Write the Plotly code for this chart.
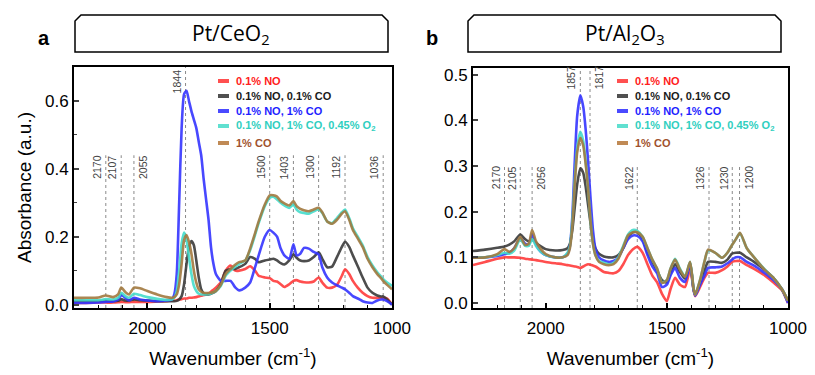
import plotly.graph_objects as go

# ---------------- data: panel a (Pt/CeO2) ----------------
wn_a = [2300, 2250, 2200, 2170, 2140, 2120, 2107, 2090, 2075, 2055,
        2030, 2000, 1960, 1920, 1900, 1890, 1880, 1870, 1860, 1850,
        1840, 1830, 1820, 1810, 1800, 1790, 1780, 1770, 1760, 1750,
        1740, 1730, 1720, 1700, 1680, 1660, 1640, 1625, 1600, 1580,
        1560, 1545, 1520, 1500, 1485, 1470, 1455, 1440, 1420, 1403,
        1390, 1375, 1360, 1340, 1320, 1300, 1285, 1265, 1245, 1225,
        1205, 1192, 1175, 1160, 1140, 1120, 1100, 1080, 1060, 1045,
        1036, 1020, 1000]
no_a = [.005, .005, .006, .006, .006, .007, .008, .007, .007, .008,
        .008, .008, .009, .010, .012, .012, .013, .015, .016, .018,
        .018, .020, .020, .021, .022, .024, .026, .028, .030, .033,
        .038, .044, .050, .065, .100, .115, .100, .100, .105, .113,
        .100, .085, .080, .078, .070, .068, .060, .052, .060, .070,
        .072, .068, .066, .065, .068, .080, .065, .050, .050, .058,
        .085, .104, .090, .070, .050, .035, .025, .020, .020, .020,
        .020, .018, .000]
no_co01_a = [.010, .010, .010, .011, .010, .011, .016, .012, .012, .015,
             .013, .012, .010, .010, .010, .010, .011, .015, .025, .060,
             .120, .170, .187, .175, .130, .080, .045, .033, .030, .030,
             .032, .035, .040, .060, .100, .105, .105, .110, .120, .140,
             .135, .125, .130, .133, .135, .130, .122, .118, .130, .148,
             .138, .130, .128, .130, .140, .154, .135, .110, .112, .140,
             .170, .185, .170, .145, .113, .080, .050, .035, .027, .024,
             .024, .015, .000]
no_co1_a = [.005, .005, .006, .008, .009, .015, .028, .020, .012, .020,
            .015, .012, .010, .012, .015, .030, .090, .300, .520, .620,
            .630, .600, .570, .545, .520, .480, .440, .370, .310, .250,
            .170, .120, .090, .070, .070, .070, .050, .042, .050, .065,
            .110, .145, .200, .220, .212, .200, .165, .145, .135, .178,
            .145, .150, .167, .165, .155, .148, .110, .080, .065, .057,
            .050, .045, .035, .025, .018, .010, .006, .005, .012, .015,
            .015, .010, .000]
no_co1_o2_a = [.013, .013, .013, .016, .015, .020, .035, .025, .020, .032,
               .028, .022, .017, .014, .015, .020, .040, .100, .180, .212,
               .190, .140, .090, .055, .040, .032, .030, .030, .030, .031,
               .033, .036, .040, .055, .085, .100, .112, .120, .130, .160,
               .205, .240, .290, .315, .318, .310, .300, .292, .285, .295,
               .280, .272, .270, .268, .275, .280, .270, .245, .240, .255,
               .272, .280, .255, .225, .200, .175, .140, .115, .095, .083,
               .075, .065, .055]
co1_a = [.020, .020, .021, .027, .022, .030, .050, .037, .030, .050,
         .048, .040, .030, .022, .020, .022, .030, .060, .120, .190,
         .205, .185, .150, .100, .065, .045, .038, .035, .034, .034,
         .035, .037, .040, .058, .090, .105, .118, .125, .130, .165,
         .210, .245, .295, .322, .322, .318, .305, .298, .292, .305,
         .290, .282, .278, .275, .280, .285, .272, .245, .238, .250,
         .268, .275, .250, .220, .195, .170, .135, .110, .090, .078,
         .070, .058, .045]
peaks_a_low = [2170, 2107, 2055, 1500, 1403, 1300, 1192, 1036]
peaks_a_high = [1844]

# ---------------- data: panel b (Pt/Al2O3) ----------------
wn_b = [2300, 2250, 2200, 2170, 2150, 2130, 2105, 2085, 2070, 2056,
        2040, 2020, 2000, 1960, 1930, 1910, 1900, 1890, 1880, 1870,
        1857, 1845, 1835, 1825, 1815, 1805, 1795, 1780, 1760, 1740,
        1720, 1700, 1680, 1660, 1640, 1622, 1600, 1580, 1560, 1540,
        1520, 1500, 1485, 1466, 1446, 1425, 1404, 1390, 1383, 1363,
        1345, 1330, 1300, 1272, 1250, 1231, 1215, 1198, 1170, 1140,
        1095, 1060, 1025, 1000]
no_b = [.083, .090, .097, .100, .100, .100, .099, .097, .096, .095,
        .094, .092, .090, .087, .085, .083, .082, .081, .080, .079,
        .077, .080, .083, .085, .084, .082, .080, .075, .068, .066,
        .065, .070, .085, .105, .118, .123, .110, .085, .060, .045,
        .020, .004, .030, .055, .040, .035, .075, .030, .015, .035,
        .055, .066, .066, .072, .080, .090, .092, .092, .083, .075,
        .060, .045, .028, .000]
no_co01_b = [.114, .117, .121, .124, .128, .135, .150, .140, .135, .140,
             .132, .124, .118, .115, .116, .120, .130, .160, .210, .260,
             .295, .285, .255, .215, .175, .140, .120, .108, .102, .100,
             .100, .105, .120, .145, .155, .155, .140, .110, .090, .070,
             .050, .045, .065, .085, .068, .053, .088, .030, .018, .045,
             .070, .090, .090, .088, .095, .108, .110, .110, .100, .090,
             .072, .055, .030, .005]
no_co1_b = [.099, .100, .103, .107, .110, .120, .142, .130, .128, .150,
            .128, .112, .105, .100, .100, .108, .125, .190, .310, .410,
            .455, .430, .380, .310, .230, .160, .120, .100, .093, .090,
            .092, .100, .120, .140, .148, .147, .135, .105, .080, .065,
            .035, .040, .060, .077, .055, .046, .085, .030, .016, .040,
            .060, .077, .078, .080, .087, .095, .100, .100, .090, .082,
            .065, .050, .030, .000]
no_co1_o2_b = [.100, .100, .105, .110, .108, .115, .140, .125, .125, .140,
               .125, .112, .105, .100, .100, .110, .125, .180, .270, .340,
               .375, .355, .310, .250, .180, .130, .105, .092, .088, .085,
               .088, .100, .125, .150, .160, .158, .145, .120, .095, .075,
               .045, .050, .075, .097, .075, .058, .090, .033, .018, .050,
               .090, .115, .110, .099, .110, .127, .140, .153, .120, .100,
               .073, .055, .030, .005]
co1_b = [.099, .100, .107, .118, .112, .120, .145, .127, .130, .160,
         .135, .118, .107, .100, .100, .105, .120, .170, .260, .330,
         .362, .345, .305, .250, .180, .130, .105, .090, .085, .083,
         .085, .097, .122, .148, .155, .155, .145, .120, .095, .075,
         .044, .050, .075, .095, .073, .057, .090, .033, .018, .050,
         .090, .117, .110, .099, .110, .127, .140, .154, .120, .100,
         .072, .055, .030, .005]
peaks_b_low = [2170, 2105, 2056, 1622, 1326, 1230, 1200]
peaks_b_high = [1857, 1817]
# peak labels written to the right of their line (others to the left)
labels_right_of_line = [2055, 2056, 1817, 1200]

labels = ["0.1% NO", "0.1% NO, 0.1% CO", "0.1% NO, 1% CO",
          "0.1% NO, 1% CO, 0.45% O<sub>2</sub>", "1% CO"]
line_colors = ["#ff3b3b", "#3a3a3a", "#3535ff", "#45dccb", "#a27a40"]
swatch_colors = ["#ff5050", "#505050", "#4a4aff", "#60e0d0", "#c08a55"]
text_colors = ["#ff2020", "#1a1a1a", "#1e1eff", "#30cfc0", "#a0522d"]

FONT = "Liberation Sans, Arial, sans-serif"
W, H = 815, 375

fig = go.Figure()


def add_panel(wn, series, xa, ya):
    for name, ys, lc in zip(labels, series, line_colors):
        fig.add_trace(go.Scatter(
            x=wn, y=ys, mode="lines", xaxis=xa, yaxis=ya, name=name, showlegend=False,
            line=dict(color=lc, width=2.6, shape="spline", smoothing=0.6),
            opacity=0.9))


add_panel(wn_a, [no_a, no_co01_a, no_co1_a, no_co1_o2_a, co1_a], "x", "y")
add_panel(wn_b, [no_b, no_co01_b, no_co1_b, no_co1_o2_b, co1_b], "x2", "y2")


def px(x):
    return x / W


def py(y):
    return 1 - y / H


axis_common = dict(range=[2300, 1000], showline=True, linewidth=2, linecolor="black",
                   mirror=True, ticks="inside", ticklen=5, tickwidth=1.5, tickcolor="black",
                   dtick=500, tick0=1000, showgrid=False, zeroline=False,
                   tickfont=dict(family=FONT, size=17, color="black"),
                   minor=dict(ticks="inside", ticklen=3, tickwidth=1.2, dtick=100, tickcolor="black"),
                   ticklabelstandoff=4, automargin=False,
                   title=dict(text="Wavenumber (cm<sup>-1</sup>)",
                              font=dict(family=FONT, size=19, color="black"), standoff=14))

fig.update_layout(
    width=W, height=H, margin=dict(l=0, r=0, t=0, b=0),
    paper_bgcolor="white", plot_bgcolor="white", showlegend=False,
    xaxis=dict(domain=[px(74), px(392)], anchor="y", **axis_common),
    xaxis2=dict(domain=[px(473), px(788)], anchor="y2", **axis_common),
    yaxis=dict(domain=[py(308), py(67)], anchor="x", range=[-0.01, 0.70],
               showline=True, linewidth=2, linecolor="black", mirror=True,
               ticks="inside", ticklen=5, tickwidth=1.5, dtick=0.2, tickformat=".1f",
               minor=dict(ticks="inside", ticklen=3, tickwidth=1.2, dtick=0.1),
               showgrid=False, zeroline=False, automargin=False,
               tickfont=dict(family=FONT, size=17, color="black"),
               title=dict(text="Absorbance (a.u.)", font=dict(family=FONT, size=19, color="black"),
                          standoff=8)),
    yaxis2=dict(domain=[py(308), py(68)], anchor="x2", range=[-0.011, 0.515],
                showline=True, linewidth=2, linecolor="black", mirror=True,
                ticks="inside", ticklen=5, tickwidth=1.5, dtick=0.1, tickformat=".1f",
                showgrid=False, zeroline=False, automargin=False,
                tickfont=dict(family=FONT, size=17, color="black")),
)

shapes = []
annotations = []


def peak_marks(peaks, xa, ya, y_top, y_axis_bottom, y_label):
    for p in peaks:
        shapes.append(dict(type="line", xref=xa, yref=ya, x0=p, x1=p, y0=y_axis_bottom, y1=y_top,
                           line=dict(color="#8a8a8a", width=1, dash="dot"), layer="below"))
        right = p in labels_right_of_line
        annotations.append(dict(xref=xa, yref=ya, x=p, y=y_label, text=str(p), showarrow=False,
                                textangle=-90, xanchor=("left" if right else "right"),
                                yanchor="bottom", xshift=(1 if right else -1),
                                font=dict(family=FONT, size=10.5, color="#444444")))


peak_marks(peaks_a_low, "x", "y", 0.44, -0.01, 0.364)
peak_marks(peaks_a_high, "x", "y", 0.70, -0.01, 0.615)
peak_marks(peaks_b_low, "x2", "y2", 0.299, -0.011, 0.244)
peak_marks(peaks_b_high, "x2", "y2", 0.515, -0.011, 0.464)


# legends (compact, as in the reference)
def legend_block(x_sw, x_txt, ys):
    for lab, sc, tc, yy in zip(labels, swatch_colors, text_colors, ys):
        shapes.append(dict(type="line", xref="paper", yref="paper",
                           x0=px(x_sw), x1=px(x_sw + 11), y0=py(yy), y1=py(yy),
                           line=dict(color=sc, width=4)))
        annotations.append(dict(xref="paper", yref="paper", x=px(x_txt), y=py(yy),
                                xanchor="left", yanchor="middle", showarrow=False,
                                text=f"<b>{lab}</b>",
                                font=dict(family=FONT, size=11, color=tc)))


legend_block(218, 234, [81, 96, 111, 126, 143])
legend_block(617, 633, [81, 96, 111, 126, 143])


# title boxes with chamfered top corners
def title_box(x0, x1, y0, y1, c):
    path = (f"M {px(x0)},{py(y1)} L {px(x0)},{py(y0 + c)} L {px(x0 + c)},{py(y0)} "
            f"L {px(x1 - c)},{py(y0)} L {px(x1)},{py(y0 + c)} L {px(x1)},{py(y1)} Z")
    shapes.append(dict(type="path", xref="paper", yref="paper", path=path,
                       line=dict(color="black", width=1.5), fillcolor="white"))


title_box(75, 388, 15, 52, 6)
title_box(468, 781, 15, 52, 6)

annotations += [
    dict(xref="paper", yref="paper", x=px(231), y=py(34), xanchor="center", yanchor="middle",
         text="Pt/CeO<sub>2</sub>", showarrow=False,
         font=dict(family="Open Sans, sans-serif", size=21, color="black")),
    dict(xref="paper", yref="paper", x=px(625), y=py(34), xanchor="center", yanchor="middle",
         text="Pt/Al<sub>2</sub>O<sub>3</sub>", showarrow=False,
         font=dict(family="Open Sans, sans-serif", size=21, color="black")),
    dict(xref="paper", yref="paper", x=px(44), y=py(38), xanchor="center", yanchor="middle",
         text="<b>a</b>", showarrow=False, font=dict(family=FONT, size=20, color="black")),
    dict(xref="paper", yref="paper", x=px(432), y=py(38), xanchor="center", yanchor="middle",
         text="<b>b</b>", showarrow=False, font=dict(family=FONT, size=20, color="black")),
]

fig.update_layout(shapes=shapes, annotations=annotations)
fig.write_html("out.html", config={"displayModeBar": False},
               post_script="document.body.style.margin='0';document.body.style.overflow='hidden';")
